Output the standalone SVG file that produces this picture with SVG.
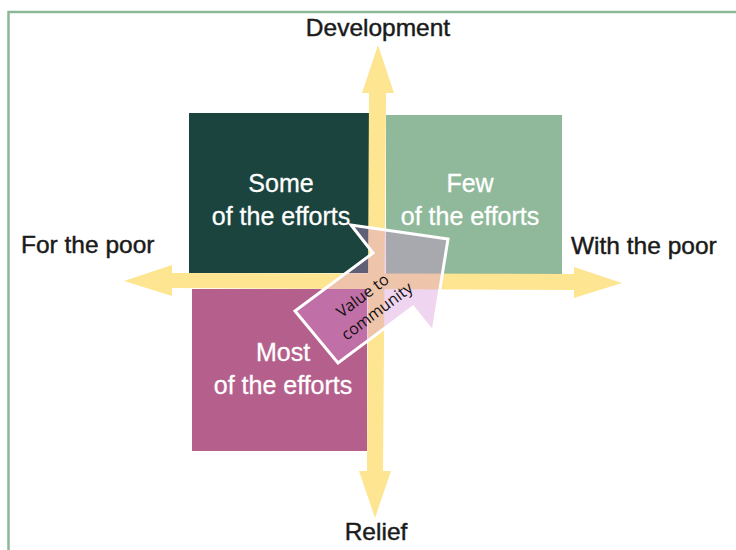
<svg xmlns="http://www.w3.org/2000/svg" width="736" height="550" viewBox="0 0 736 550">
<style>
.lbl{font-family:"Liberation Sans",Arial,sans-serif;font-size:24.5px;fill:#1a1a1a;stroke:#1a1a1a;stroke-width:0.45}
.box{font-family:"Liberation Sans",Arial,sans-serif;font-size:25px;fill:#ffffff;stroke:#ffffff;stroke-width:0.3;text-anchor:middle}
.val{font-family:"Open Sans","Noto Sans",sans-serif;font-size:16px;fill:#111111;text-anchor:middle}
.axis{fill:#fde592}
</style>
<rect width="736" height="550" fill="#ffffff"/>
<path d="M8.5 552 V12 H740" fill="none" stroke="#8cb896" stroke-width="2.5"/>
<g id="q-some"><rect x="189" y="113" width="180" height="160" fill="#1b443e"/></g>
<g id="q-few"><rect x="386" y="115" width="176" height="159" fill="#8fb99a"/></g>
<g id="q-most"><rect x="192" y="289" width="175" height="162" fill="#b5608c"/></g>
<g id="connectors">
<polygon class="axis" points="378,45 394,93 386,93 383,471 391,471 375,518 359,471 367,471 369,93 362,93"/>
<polygon class="axis" points="124,281 172,265 172,273 574,274 574,267 622,283 574,298 574,290 172,288 172,296"/>
</g>
<g id="value-arrow">
<polygon points="448,239 351,225 373,253 295,311 338,363 413,307 433,332" fill="rgb(212,140,212)" fill-opacity="0.37" stroke="#ffffff" stroke-width="3" stroke-linejoin="miter"/>
<g transform="translate(366,300) rotate(-37)">
<text class="val" x="0" y="0">Value to</text>
<text class="val" x="2" y="21">community</text>
</g>
</g>
<g id="labels">
<text class="lbl" x="378" y="36" text-anchor="middle">Development</text>
<text class="lbl" x="21" y="253">For the poor</text>
<text class="lbl" x="571" y="254">With the poor</text>
<text class="lbl" x="376" y="540" text-anchor="middle">Relief</text>
</g>
<g id="box-labels">
<text class="box" x="281" y="192">Some</text>
<text class="box" x="281" y="225">of the efforts</text>
<text class="box" x="470" y="192">Few</text>
<text class="box" x="470" y="225">of the efforts</text>
<text class="box" x="283" y="361">Most</text>
<text class="box" x="283" y="394">of the efforts</text>
</g>
</svg>
